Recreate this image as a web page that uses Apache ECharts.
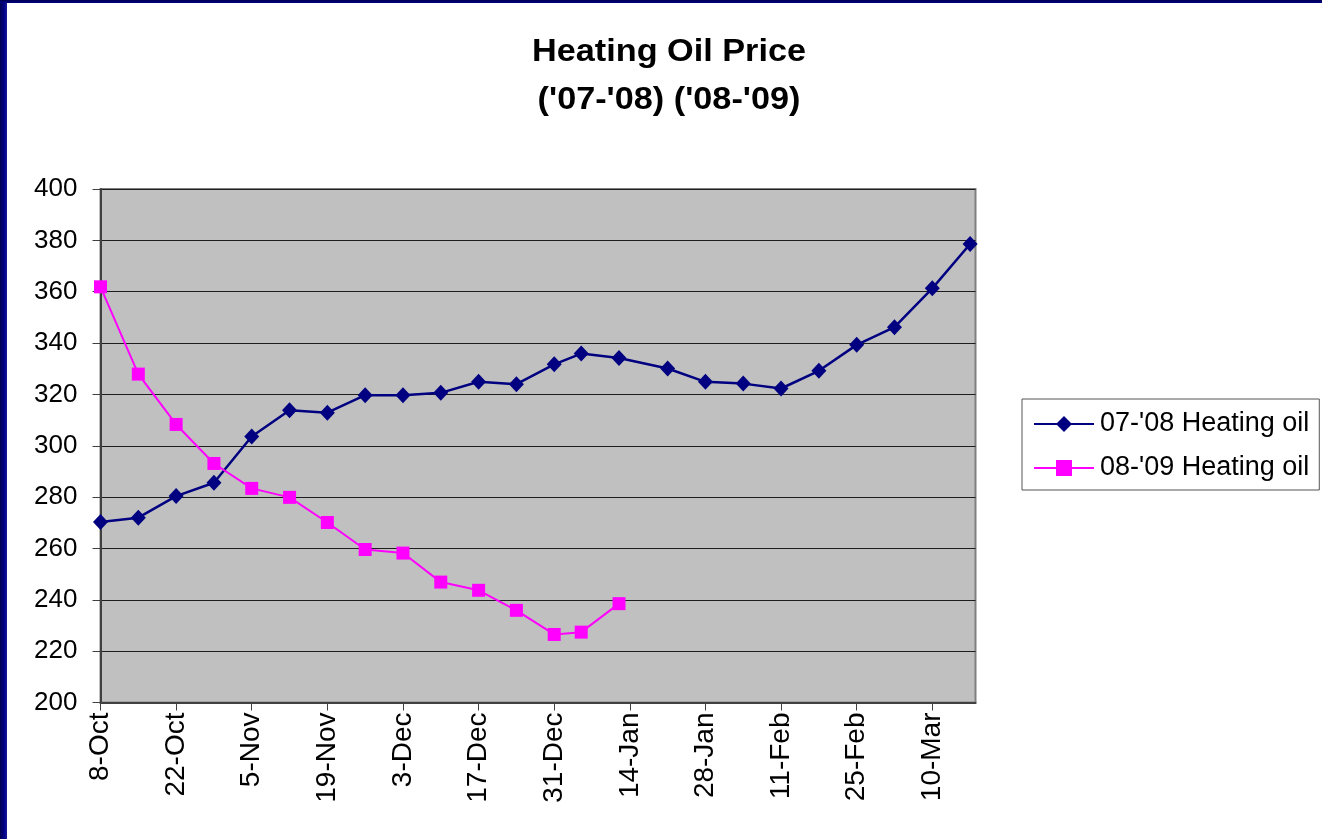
<!DOCTYPE html>
<html>
<head>
<meta charset="utf-8">
<title>Heating Oil Price</title>
<script src="https://cdn.jsdelivr.net/npm/echarts@6/dist/echarts.min.js"></script>
<style>
  html, body { margin: 0; padding: 0; background: #ffffff; }
  #frame { position: relative; width: 1322px; height: 839px; background: #ffffff; overflow: hidden; }
  #chart { position: absolute; left: 0; top: 0; width: 1322px; height: 839px; }
  .edge-left { position: absolute; left: 0; top: 0; width: 7px; height: 839px;
               background: linear-gradient(to right, #000050, #000088 60%, #1a1a9a); }
  .edge-top { position: absolute; left: 0; top: 0; width: 1322px; height: 3px;
              background: linear-gradient(to bottom, #000050, #000088); }
</style>
</head>
<body>
<div id="frame">
  <div id="chart"></div>
  <div class="edge-left"></div>
  <div class="edge-top"></div>
</div>
<script>
// Weekly observation dates (07-'08 season; the 08-'09 season uses the same calendar days)
const obsDates = [
  '2007-10-08', '2007-10-15', '2007-10-22', '2007-10-29', '2007-11-05', '2007-11-12',
  '2007-11-19', '2007-11-26', '2007-12-03', '2007-12-10', '2007-12-17', '2007-12-24',
  '2007-12-31', '2008-01-05', '2008-01-12', '2008-01-21', '2008-01-28', '2008-02-04',
  '2008-02-11', '2008-02-18', '2008-02-25', '2008-03-03', '2008-03-10', '2008-03-17'
];

// Heating oil prices
const oil0708 = [
  270.3, 272.0, 280.4, 285.6, 303.6, 313.8, 312.9, 319.7, 319.7, 320.6, 324.9, 324.0,
  331.7, 335.9, 334.2, 330.1, 324.9, 324.2, 322.3, 329.2, 339.3, 346.2, 361.3, 378.6
];
const oil0809 = [
  361.9, 327.9, 308.3, 293.1, 283.4, 279.9, 270.1, 259.6, 258.2, 246.9, 243.7, 235.9,
  226.5, 227.4, 238.5
];

const seriesNames = ["07-'08 Heating oil", "08-'09 Heating oil"];
const titleLines = ['Heating Oil Price', "('07-'08) ('08-'09)"];

// Date axis labels, every two weeks
const tickLabels = ['8-Oct', '22-Oct', '5-Nov', '19-Nov', '3-Dec', '17-Dec',
                    '31-Dec', '14-Jan', '28-Jan', '11-Feb', '25-Feb', '10-Mar'];
const tickStepDays = 14;
const axisEndDays = 162;

const yTicks = { min: 200, max: 400, step: 20 };

// Convert dates to day offsets from the first observation
const DAY = 86400000;
const t0 = Date.parse(obsDates[0] + 'T00:00:00Z');
const dayOffsets = obsDates.map(d => Math.round((Date.parse(d + 'T00:00:00Z') - t0) / DAY));
const tickDays = tickLabels.map((_, i) => i * tickStepDays);

const pairs = (vals) => vals.map((v, i) => [dayOffsets[i], v]);

const chart = echarts.init(document.getElementById('chart'), null, { renderer: 'canvas' });

const FONT = 'Liberation Sans, Arial, Helvetica, sans-serif';

chart.setOption({
  backgroundColor: 'transparent',
  animation: false,
  textStyle: { fontFamily: FONT },
  graphic: titleLines.map((line, i) => ({
    type: 'text',
    x: 669,
    y: 52 + i * 48,
    scaleX: 1.07,
    style: {
      text: line,
      fontFamily: FONT,
      fontSize: 32,
      fontWeight: 'bold',
      fill: '#000000',
      textAlign: 'center',
      textVerticalAlign: 'middle'
    }
  })),
  grid: {
    left: 100.5,
    top: 189,
    right: 346.5,
    bottom: 136.5,
    show: true,
    backgroundColor: '#C0C0C0',
    borderColor: '#808080',
    borderWidth: 2,
    containLabel: false
  },
  legend: {
    orient: 'vertical',
    left: 1022,
    top: 399,
    padding: [9, 10, 6, 11],
    itemWidth: 60,
    itemHeight: 20,
    itemGap: 12,
    borderColor: '#555555',
    borderWidth: 1,
    backgroundColor: '#ffffff',
    textStyle: { fontFamily: FONT, fontSize: 27, color: '#000000', lineHeight: 32, padding: [0, 0, 0, 1] },
    data: seriesNames
  },
  xAxis: {
    type: 'value',
    min: 0,
    max: axisEndDays,
    splitLine: { show: false },
    axisLine: { show: true, onZero: false, lineStyle: { color: '#404040', width: 2 } },
    axisTick: { show: true, length: 8, inside: false, customValues: tickDays,
                lineStyle: { color: '#404040', width: 1 } },
    axisLabel: {
      customValues: tickDays,
      rotate: 90,
      margin: 10,
      fontFamily: FONT,
      fontSize: 28,
      color: '#000000',
      formatter: (v) => tickLabels[Math.round(v / tickStepDays)] || ''
    }
  },
  yAxis: {
    type: 'value',
    min: yTicks.min,
    max: yTicks.max,
    interval: yTicks.step,
    axisLine: { show: true, lineStyle: { color: '#404040', width: 2 } },
    axisTick: { show: true, length: 8, lineStyle: { color: '#404040', width: 1 } },
    axisLabel: { margin: 23, fontFamily: FONT, fontSize: 26, color: '#000000' },
    splitLine: { show: true, lineStyle: { color: '#1e1e1e', width: 1 } }
  },
  series: [
    {
      name: seriesNames[0],
      type: 'line',
      data: pairs(oil0708),
      symbol: 'diamond',
      symbolSize: [15, 16],
      showAllSymbol: true,
      lineStyle: { color: '#000080', width: 2.5 },
      itemStyle: { color: '#000080' },
      z: 3
    },
    {
      name: seriesNames[1],
      type: 'line',
      data: pairs(oil0809),
      symbol: 'rect',
      symbolSize: 13,
      showAllSymbol: true,
      lineStyle: { color: '#FF00FF', width: 2 },
      itemStyle: { color: '#FF00FF' },
      z: 4
    }
  ]
});
</script>
</body>
</html>
